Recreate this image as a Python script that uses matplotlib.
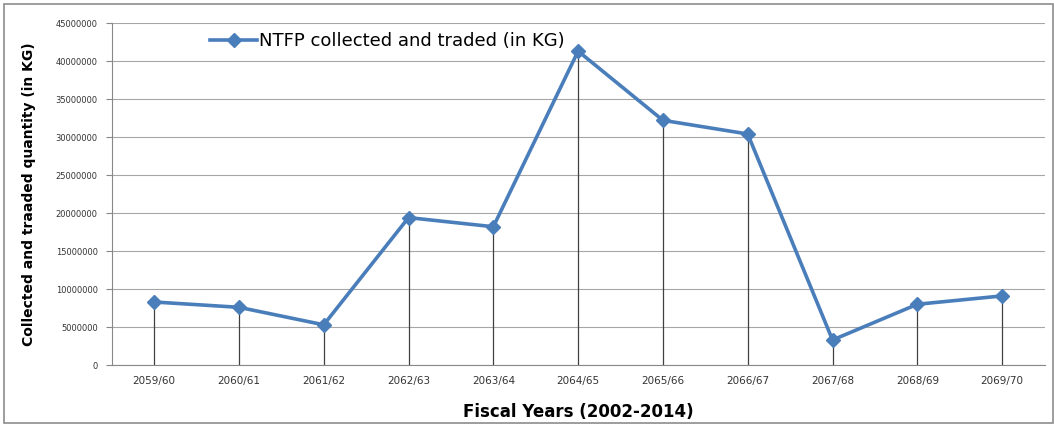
import matplotlib.pyplot as plt
from matplotlib.patches import Rectangle

# NTFP quantities by fiscal year (Nepali calendar)
years = ["2059/60", "2060/61", "2061/62", "2062/63", "2063/64", "2064/65",
         "2065/66", "2066/67", "2067/68", "2068/69", "2069/70"]
quantity_kg = [8300000, 7600000, 5300000, 19400000, 18200000, 41300000,
               32200000, 30400000, 3300000, 8000000, 9100000]
y_ticks = list(range(0, 45000001, 5000000))

LINE_C = "#4A7EBB"

fig = plt.figure(figsize=(10.54, 4.26), dpi=100)
ax = fig.add_axes([0.106, 0.143, 0.885, 0.803])

x = list(range(len(years)))

# drop lines from each point down to the axis
ax.vlines(x, 0, quantity_kg, color="#404040", lw=0.9, zorder=2)
ax.plot(x, quantity_kg, color=LINE_C, lw=2.6, marker="D", ms=7.5,
        mfc=LINE_C, mec=LINE_C, zorder=3,
        label="NTFP collected and traded (in KG)")

ax.set_xlim(-0.5, len(years) - 0.5)
ax.set_ylim(0, 45000000)
ax.set_yticks(y_ticks)
ax.set_yticklabels([str(v) for v in y_ticks], fontsize=6, color="#333333")
ax.set_xticks(x)
ax.set_xticklabels(years, fontsize=7.5, color="#333333")
ax.tick_params(axis="x", length=0, pad=8)
ax.tick_params(axis="y", length=4, color="#888888", pad=6)
ax.grid(axis="y", color="#a6a6a6", lw=0.8)
ax.set_axisbelow(True)

for side in ["top", "right"]:
    ax.spines[side].set_visible(False)
ax.spines["left"].set_color("#888888")
ax.spines["bottom"].set_color("#888888")

ax.set_ylabel("Collected and traaded quantity (in KG)", fontsize=10,
              fontweight="bold", labelpad=14)
ax.set_xlabel("Fiscal Years (2002-2014)", fontsize=12, fontweight="bold",
              labelpad=12)

ax.legend(loc="upper left", bbox_to_anchor=(0.098, 0.995), frameon=False,
          fontsize=13, handlelength=2.6, handletextpad=0.1, borderaxespad=0)

# outer frame around the chart
fig.patches.append(Rectangle((0.004, 0.008), 0.995, 0.983, transform=fig.transFigure,
                             fill=False, edgecolor="#8c8c8c", lw=1.2))

fig.savefig("out.png", dpi=100)
